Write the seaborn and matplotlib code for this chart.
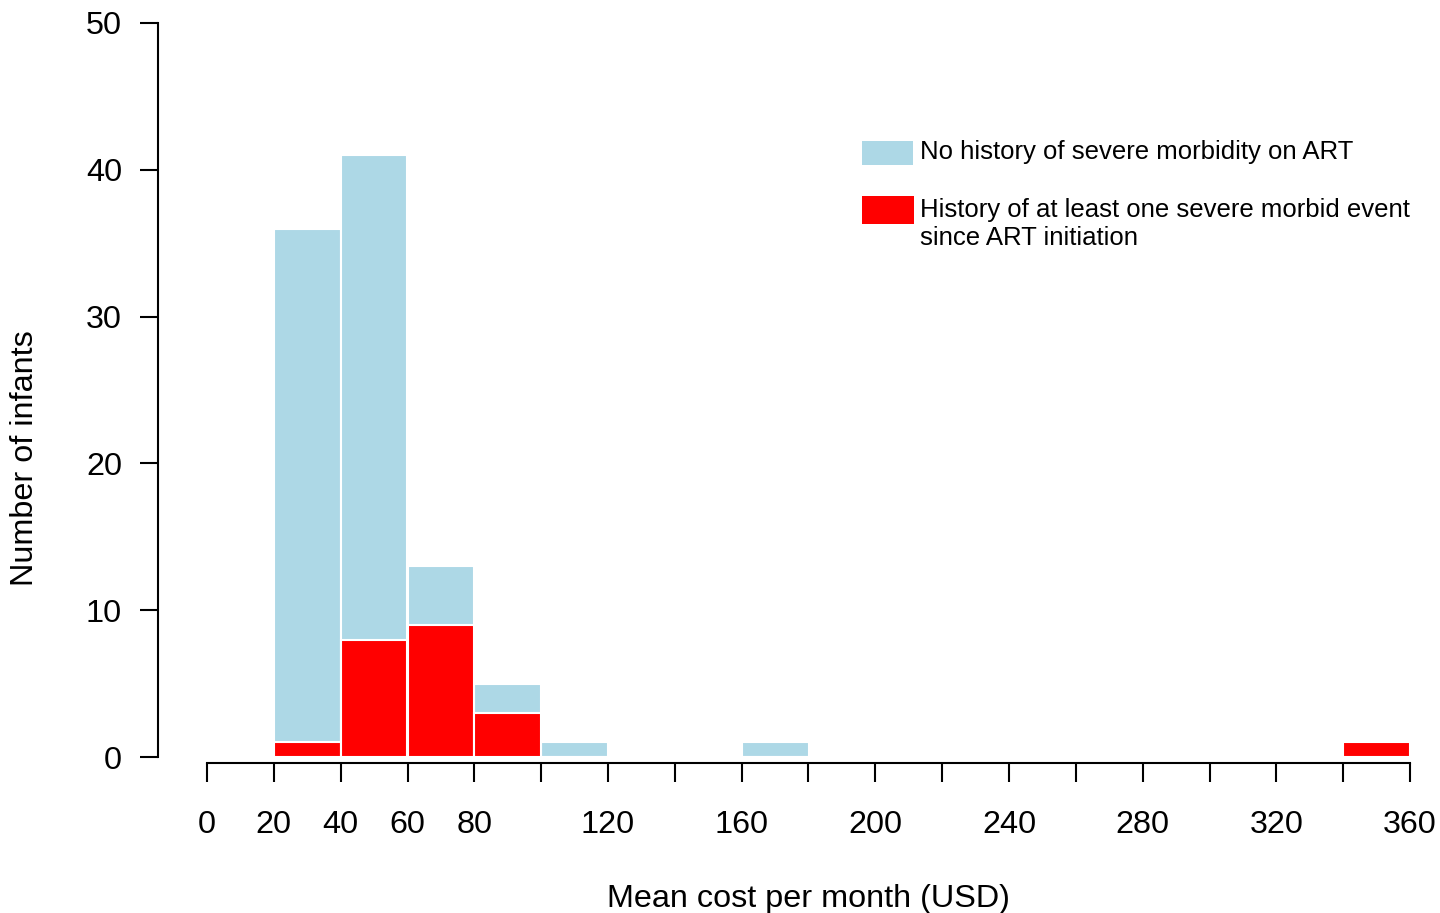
import numpy as np
import pandas as pd
import matplotlib
matplotlib.use("Agg")
import matplotlib.pyplot as plt
from matplotlib.patches import Rectangle
import seaborn as sns

# ---- data (counts per 20-USD bin, 0..360) ----
bin_edges = list(range(0, 380, 20))
no_history = [0, 35, 33, 4, 2, 1, 0, 0, 1, 0, 0, 0, 0, 0, 0, 0, 0, 0]
history    = [0, 1, 8, 9, 3, 0, 0, 0, 0, 0, 0, 0, 0, 0, 0, 0, 0, 1]
x_ticks = list(range(0, 380, 20))
x_tick_labels = ["0", "20", "40", "60", "80", "", "120", "", "160", "", "200", "",
                 "240", "", "280", "", "320", "", "360"]
y_ticks = [0, 10, 20, 30, 40, 50]
legend_labels = ["No history of severe morbidity on ART",
                 "History of at least one severe morbid event\nsince ART initiation"]
colors = ["#ADD8E6", "#FF0000"]

centers = [e + 10 for e in bin_edges[:-1]]
total = [a + b for a, b in zip(no_history, history)]
df_total = pd.DataFrame({"x": centers, "w": total})
df_hist = pd.DataFrame({"x": centers, "w": history})

sns.set_style("white")
plt.rcParams["font.family"] = ["Liberation Sans", "DejaVu Sans"]
plt.rcParams["text.color"] = "black"
plt.rcParams["axes.labelcolor"] = "black"
plt.rcParams["xtick.color"] = "black"
plt.rcParams["ytick.color"] = "black"

fig = plt.figure(figsize=(14.4, 9.13), dpi=100)
W, H = 1440, 913
ax = fig.add_axes([158 / W, (913 - 763) / H, (1420 - 158) / W, (763 - 23) / H])

sns.histplot(data=df_total, x="x", weights="w", bins=bin_edges, ax=ax,
             color=colors[0], alpha=1, edgecolor="white", linewidth=1.5)
sns.histplot(data=df_hist, x="x", weights="w", bins=bin_edges, ax=ax,
             color=colors[1], alpha=1, edgecolor="white", linewidth=1.5)

px_per_unit_x = (1410 - 207) / 360.0
px_per_unit_y = (757 - 23) / 50.0
ax.set_xlim(-(207 - 158) / px_per_unit_x, 360 + (1420 - 1410) / px_per_unit_x)
ax.set_ylim(-(763 - 757) / px_per_unit_y, 50)

for s in ["top", "right"]:
    ax.spines[s].set_visible(False)
ax.spines["left"].set_bounds(0, 50)
ax.spines["bottom"].set_bounds(0, 360)
for s in ["left", "bottom"]:
    ax.spines[s].set_linewidth(1.5)
    ax.spines[s].set_color("black")

ax.set_xticks(x_ticks)
ax.set_xticklabels(x_tick_labels)
ax.set_yticks(y_ticks)
ax.set_yticklabels([str(v) for v in y_ticks])
ax.tick_params(axis="y", length=13, width=1.5, pad=13, labelsize=23.3, direction="out", left=True)
ax.tick_params(axis="x", length=14, width=1.5, pad=20, labelsize=23.3, direction="out", bottom=True)

ax.set_xlabel("Mean cost per month (USD)", fontsize=23.3, va="center")
ax.set_ylabel("Number of infants", fontsize=23.3, va="center")
ax.xaxis.set_label_coords((808 - 158) / 1262, -(899 - 763) / 740)
ax.yaxis.set_label_coords(-(158 - 25) / 1262, (763 - 458) / 740)

# legend (manual, R-style)
fig.patches.append(Rectangle((862 / W, 1 - 165 / H), 51 / W, 24 / H,
                             transform=fig.transFigure, facecolor=colors[0], edgecolor="none"))
fig.patches.append(Rectangle((862 / W, 1 - 224 / H), 52 / W, 28 / H,
                             transform=fig.transFigure, facecolor=colors[1], edgecolor="none"))
fig.text(920 / W, 1 - 159 / H, legend_labels[0], fontsize=18.5, va="baseline", ha="left")
fig.text(920 / W, 1 - 217 / H, legend_labels[1].split("\n")[0], fontsize=18.5, va="baseline", ha="left")
fig.text(920 / W, 1 - 245 / H, legend_labels[1].split("\n")[1], fontsize=18.5, va="baseline", ha="left")

fig.savefig("out.png", dpi=100)
